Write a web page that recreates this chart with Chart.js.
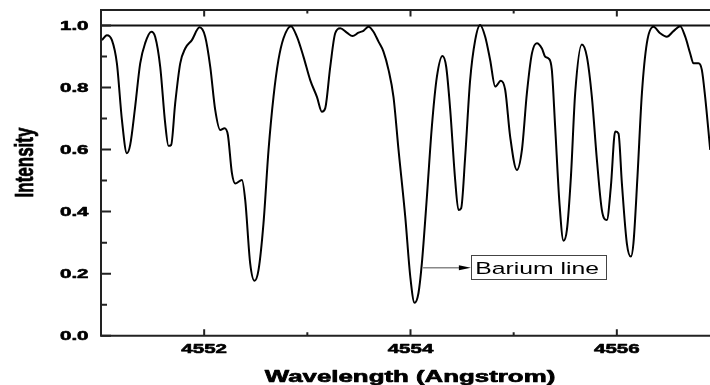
<!DOCTYPE html>
<html><head><meta charset="utf-8">
<script src="https://cdn.jsdelivr.net/npm/chart.js@4"></script>
<style>html,body{margin:0;padding:0;overflow:hidden;background:#fff}#wrap{width:730px;height:385px}</style>
</head><body><div id="wrap"><canvas id="c" width="730" height="385"></canvas></div>
<script>
const wavelength = [4551.009,4551.057,4551.106,4551.154,4551.203,4551.251,4551.283,4551.331,4551.380,4551.428,
4551.487,4551.525,4551.574,4551.622,4551.654,4551.680,4551.719,4551.768,4551.816,4551.881,
4551.955,4552.010,4552.059,4552.107,4552.156,4552.197,4552.230,4552.269,4552.301,4552.366,
4552.398,4552.446,4552.488,4552.527,4552.575,4552.624,4552.672,4552.720,4552.769,4552.841,
4552.899,4552.963,4553.028,4553.093,4553.141,4553.173,4553.222,4553.270,4553.319,4553.383,
4553.438,4553.496,4553.544,4553.593,4553.641,4553.690,4553.738,4553.787,4553.835,4553.884,
4553.949,4553.998,4554.039,4554.077,4554.110,4554.159,4554.207,4554.256,4554.310,4554.346,
4554.385,4554.433,4554.465,4554.491,4554.530,4554.578,4554.627,4554.675,4554.724,4554.772,
4554.821,4554.876,4554.918,4554.966,4555.031,4555.080,4555.128,4555.177,4555.225,4555.274,
4555.306,4555.337,4555.370,4555.402,4555.444,4555.483,4555.516,4555.555,4555.596,4555.661,
4555.710,4555.758,4555.807,4555.855,4555.903,4555.942,4555.984,4556.016,4556.049,4556.097,
4556.136,4556.161,4556.200,4556.243,4556.291,4556.355,4556.420,4556.485,4556.549,4556.614,
4556.663,4556.711,4556.743,4556.791,4556.824,4556.856,4556.905];
const intensity = [0.953,0.969,0.953,0.878,0.695,0.588,0.615,0.738,0.878,0.943,
0.980,0.964,0.867,0.685,0.612,0.615,0.749,0.878,0.926,0.953,
0.994,0.964,0.867,0.728,0.663,0.669,0.647,0.524,0.491,0.502,
0.437,0.233,0.177,0.212,0.362,0.599,0.770,0.889,0.959,0.998,
0.964,0.899,0.824,0.770,0.722,0.733,0.867,0.975,0.991,0.977,
0.966,0.977,0.983,0.996,0.980,0.948,0.916,0.857,0.770,0.599,
0.384,0.190,0.106,0.137,0.233,0.448,0.674,0.835,0.902,0.867,
0.728,0.502,0.405,0.411,0.577,0.824,0.953,1.002,0.964,0.889,
0.803,0.822,0.792,0.642,0.534,0.599,0.781,0.910,0.943,0.926,
0.899,0.894,0.857,0.674,0.427,0.306,0.341,0.513,0.781,0.939,
0.899,0.770,0.566,0.405,0.373,0.480,0.658,0.652,0.491,0.298,
0.255,0.298,0.513,0.781,0.943,0.996,0.975,0.964,0.982,0.998,
0.964,0.910,0.878,0.878,0.857,0.770,0.599];
const continuumLevel = 1.0;
const xRange = [4551, 4557];
const yRange = [0, 1.05];
const xMajorTicks = [4552, 4554, 4556];
const xMinorTicks = [4551, 4553, 4555, 4557];
const xTickLabels = ['4552', '4554', '4556'];
const yMajorTicks = [0, 0.2, 0.4, 0.6, 0.8, 1.0];
const yMinorTicks = [0.1, 0.3, 0.5, 0.7, 0.9];
const yTickLabels = ['0.0', '0.2', '0.4', '0.6', '0.8', '1.0'];
const xTitle = 'Wavelength (Angstrom)';
const yTitle = 'Intensity';
const annotationText = 'Barium line';
const annotationFrom = {x: 4554.122, y: 0.219};
const annotationBox = {x0: 4554.585, x1: 4555.897, y0: 0.183, y1: 0.260};

const FONT = '"Liberation Sans", Arial, Helvetica, sans-serif';
const SX = 1.52;
function sText(ctx, text, x, y, font, align, stroke) {
  ctx.save(); ctx.translate(x, y); ctx.scale(SX, 1);
  ctx.font = font; ctx.textAlign = align; ctx.textBaseline = 'alphabetic';
  ctx.fillStyle = '#000'; ctx.fillText(text, 0, 0);
  if (stroke) { ctx.strokeStyle = '#000'; ctx.lineWidth = stroke; ctx.lineJoin = 'round'; ctx.strokeText(text, 0, 0); }
  ctx.restore();
}

const framePlugin = {
  id: 'frame',
  afterDraw(chart) {
    const ctx = chart.ctx, a = chart.chartArea;
    const xs = chart.scales.x, ys = chart.scales.y;
    ctx.save();
    ctx.strokeStyle = '#222'; ctx.lineWidth = 2; ctx.lineCap = 'butt';
    ctx.beginPath();
    ctx.moveTo(a.left, a.top); ctx.lineTo(a.right, a.top); ctx.lineTo(a.right, a.bottom);
    ctx.lineTo(a.left, a.bottom); ctx.closePath(); ctx.stroke();
    ctx.beginPath();
    xMajorTicks.forEach(v => { const p = xs.getPixelForValue(v);
      ctx.moveTo(p, a.bottom); ctx.lineTo(p, a.bottom - 6.5);
      ctx.moveTo(p, a.top); ctx.lineTo(p, a.top + 6.5); });
    xMinorTicks.forEach(v => { const p = xs.getPixelForValue(v);
      ctx.moveTo(p, a.bottom); ctx.lineTo(p, a.bottom - 3.5);
      ctx.moveTo(p, a.top); ctx.lineTo(p, a.top + 3.5); });
    yMajorTicks.forEach(v => { const p = ys.getPixelForValue(v);
      ctx.moveTo(a.left, p); ctx.lineTo(a.left + 10, p);
      ctx.moveTo(a.right, p); ctx.lineTo(a.right - 10, p); });
    yMinorTicks.forEach(v => { const p = ys.getPixelForValue(v);
      ctx.moveTo(a.left, p); ctx.lineTo(a.left + 6, p);
      ctx.moveTo(a.right, p); ctx.lineTo(a.right - 6, p); });
    ctx.stroke();
    const tf = 'bold 13.5px ' + FONT;
    xMajorTicks.forEach((v, i) => sText(ctx, xTickLabels[i], xs.getPixelForValue(v), 353.3, tf, 'center', 0.6));
    yMajorTicks.forEach((v, i) => sText(ctx, yTickLabels[i], 88.5, ys.getPixelForValue(v) + 4.3, tf, 'right', 0.6));
    sText(ctx, xTitle, 410, 381.5, 'bold 17px ' + FONT, 'center', 0.7);
    ctx.save(); ctx.translate(33.3, 162.5); ctx.scale(SX * 0.98, 1); ctx.rotate(-Math.PI / 2);
    ctx.font = 'bold 17px ' + FONT; ctx.textAlign = 'center'; ctx.textBaseline = 'alphabetic';
    ctx.fillStyle = '#000'; ctx.fillText(yTitle, 0, 0);
    ctx.strokeStyle = '#000'; ctx.lineWidth = 0.5; ctx.strokeText(yTitle, 0, 0); ctx.restore();
    const fx = xs.getPixelForValue(annotationFrom.x), fy = ys.getPixelForValue(annotationFrom.y);
    const bx0 = xs.getPixelForValue(annotationBox.x0), bx1 = xs.getPixelForValue(annotationBox.x1);
    const by0 = ys.getPixelForValue(annotationBox.y1), by1 = ys.getPixelForValue(annotationBox.y0);
    ctx.strokeStyle = '#888'; ctx.lineWidth = 1.6;
    ctx.beginPath(); ctx.moveTo(fx, fy); ctx.lineTo(bx0 - 10, fy); ctx.stroke();
    ctx.fillStyle = '#000';
    ctx.beginPath(); ctx.moveTo(bx0, fy); ctx.lineTo(bx0 - 12, fy - 2.6); ctx.lineTo(bx0 - 12, fy + 2.6); ctx.closePath(); ctx.fill();
    ctx.strokeStyle = '#444'; ctx.lineWidth = 1;
    ctx.strokeRect(Math.round(bx0) + 0.5, Math.round(by0) + 0.5, Math.round(bx1 - bx0), Math.round(by1 - by0));
    sText(ctx, annotationText, bx0 + 4.5, fy + 5.8, '16.3px ' + FONT, 'left', 0);
    ctx.restore();
  }
};

new Chart(document.getElementById('c'), {
  type: 'line',
  data: {
    datasets: [
      { data: wavelength.map((w, i) => ({x: w, y: intensity[i]})), borderColor: '#000', borderWidth: 2,
        pointRadius: 0, fill: false, cubicInterpolationMode: 'monotone' },
      { data: [{x: xRange[0], y: continuumLevel}, {x: xRange[1], y: continuumLevel}], borderColor: '#111',
        borderWidth: 1.8, pointRadius: 0, fill: false }
    ]
  },
  options: {
    responsive: false, animation: false, devicePixelRatio: 1,
    layout: { padding: { top: 10, right: 10, left: 0, bottom: 0 } },
    plugins: { legend: { display: false }, tooltip: { enabled: false } },
    scales: {
      x: { type: 'linear', min: xRange[0], max: xRange[1], ticks: { display: false },
           grid: { display: false }, border: { display: false }, afterFit(s) { s.height = 49.3; } },
      y: { type: 'linear', min: yRange[0], max: yRange[1], ticks: { display: false },
           grid: { display: false }, border: { display: false }, afterFit(s) { s.width = 101; } }
    }
  },
  plugins: [framePlugin]
});
</script></body></html>
